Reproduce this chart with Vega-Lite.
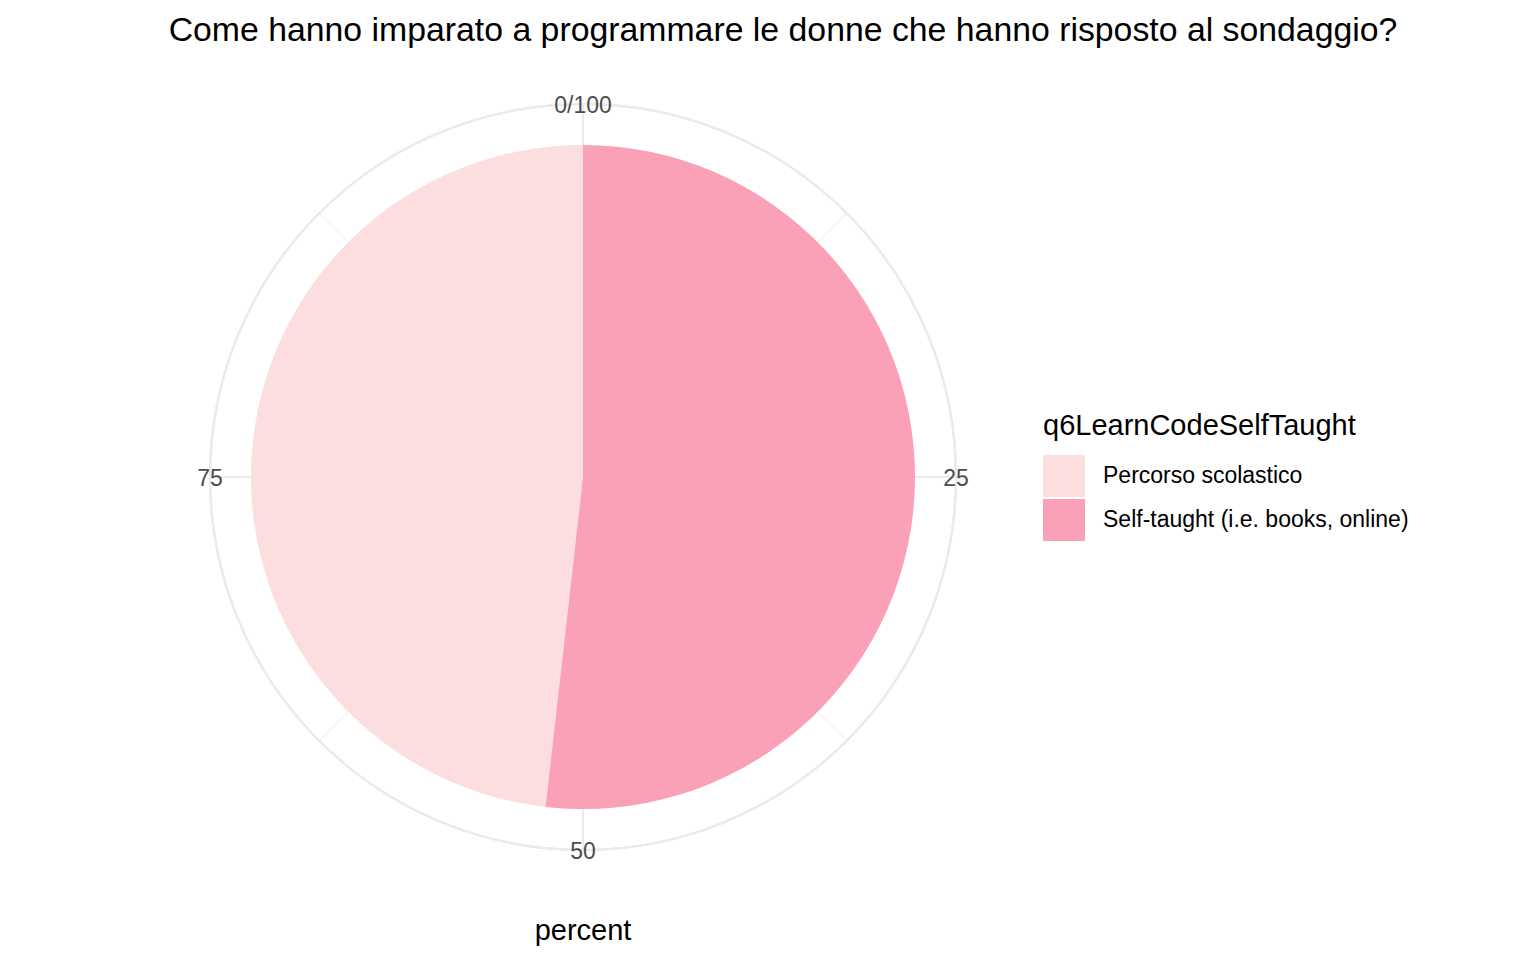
{
  "$schema": "https://vega.github.io/schema/vega-lite/v6.json",
  "width": 1166,
  "height": 834,
  "autosize": {"type": "none"},
  "padding": {"left": 0, "top": 60, "right": 370, "bottom": 66},
  "background": "white",
  "title": {
    "text": "Come hanno imparato a programmare le donne che hanno risposto al sondaggio?",
    "fontSize": 33.8,
    "font": "Liberation Sans",
    "fontWeight": "normal",
    "color": "black",
    "anchor": "middle",
    "dx": 200,
    "offset": 12
  },
  "datasets": {
    "slices": [
      {"category": "Percorso scolastico", "percent": 48.2},
      {"category": "Self-taught (i.e. books, online)", "percent": 51.8}
    ],
    "major": [
      {"v": 0, "label": "0/100"},
      {"v": 25, "label": "25"},
      {"v": 50, "label": "50"},
      {"v": 75, "label": "75"}
    ],
    "minor": [
      {"v": 12.5},
      {"v": 37.5},
      {"v": 62.5},
      {"v": 87.5}
    ],
    "axistitle": [
      {"v": 50, "label": "percent"}
    ]
  },
  "layer": [
    {
      "data": {"name": "major"},
      "mark": {"type": "arc", "outerRadius": 373, "fill": "transparent", "stroke": "#EBEBEB", "strokeWidth": 2},
      "encoding": {
        "theta": {"datum": 0, "type": "quantitative", "scale": {"domain": [0, 100]}},
        "theta2": {"datum": 100}
      }
    },
    {
      "data": {"name": "major"},
      "mark": {"type": "arc", "outerRadius": 373, "innerRadius": 0, "fill": "transparent", "stroke": "#EBEBEB", "strokeWidth": 2},
      "encoding": {
        "theta": {"field": "v", "type": "quantitative", "stack": null},
        "theta2": {"field": "v"}
      }
    },
    {
      "data": {"name": "minor"},
      "mark": {"type": "arc", "outerRadius": 373, "innerRadius": 0, "fill": "transparent", "stroke": "#EBEBEB", "strokeWidth": 1},
      "encoding": {
        "theta": {"field": "v", "type": "quantitative", "stack": null},
        "theta2": {"field": "v"}
      }
    },
    {
      "data": {"name": "slices"},
      "mark": {"type": "arc", "outerRadius": 332},
      "encoding": {
        "theta": {"field": "percent", "type": "quantitative", "stack": true},
        "order": {"field": "category", "sort": "descending"},
        "color": {
          "field": "category",
          "type": "nominal",
          "scale": {
            "domain": ["Percorso scolastico", "Self-taught (i.e. books, online)"],
            "range": ["#FCDEDE", "#FAA0B7"]
          },
          "legend": {
            "orient": "none",
            "legendX": 1043,
            "legendY": 352,
            "title": "q6LearnCodeSelfTaught",
            "titleFont": "Liberation Sans",
            "titleFontSize": 29,
            "titleFontWeight": "normal",
            "titleColor": "black",
            "titleLimit": 0,
            "labelFont": "Liberation Sans",
            "labelFontSize": 23,
            "labelColor": "black",
            "labelLimit": 0,
            "symbolType": "square",
            "symbolSize": 1764,
            "symbolStrokeWidth": 0,
            "symbolOpacity": 1,
            "labelOffset": 18,
            "rowPadding": 2,
            "titlePadding": 14,
            "padding": 0
          }
        }
      }
    },
    {
      "data": {"name": "major"},
      "mark": {"type": "text", "radius": 373, "align": "center", "baseline": "middle", "dy": 2, "font": "Liberation Sans", "fontSize": 23, "color": "#4D4D4D"},
      "encoding": {
        "theta": {"field": "v", "type": "quantitative", "stack": null},
        "text": {"field": "label"}
      }
    },
    {
      "data": {"name": "axistitle"},
      "mark": {"type": "text", "radius": 453, "align": "center", "baseline": "middle", "dy": 1, "font": "Liberation Sans", "fontSize": 29, "color": "black"},
      "encoding": {
        "theta": {"field": "v", "type": "quantitative", "stack": null},
        "text": {"field": "label"}
      }
    }
  ],
  "config": {"view": {"stroke": null}, "font": "Liberation Sans"}
}
